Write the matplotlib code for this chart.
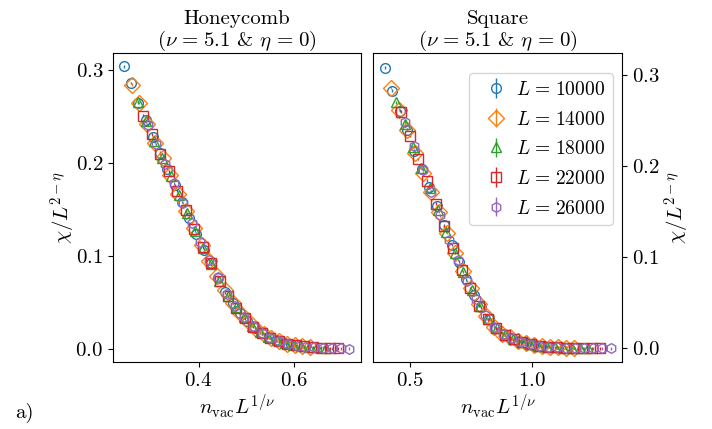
import numpy as np
import matplotlib
matplotlib.use('Agg')
import matplotlib.pyplot as plt

plt.rcParams['font.family'] = 'serif'
plt.rcParams['font.serif'] = ['cmr10']
plt.rcParams['mathtext.fontset'] = 'cm'
plt.rcParams['axes.formatter.use_mathtext'] = True
plt.rcParams['axes.unicode_minus'] = False
plt.rcParams['font.size'] = 15

nu = 5.1
L_values = [10000, 14000, 18000, 22000, 26000]
markers = ['o', 'D', '^', 's', 'h']
msizes = [7, 8, 7, 7, 7]
colors = ['C0', 'C1', 'C2', 'C3', 'C4']

# vacancy concentrations (same grid for every L)
n_honey = [0.0400, 0.0425, 0.0450, 0.0475, 0.0500, 0.0525, 0.0550, 0.0575,
           0.0600, 0.0625, 0.0650, 0.0675, 0.0700, 0.0725, 0.0750, 0.0775,
           0.0800, 0.0825, 0.0850, 0.0875, 0.0900, 0.0925, 0.0950, 0.0975]
n_square = [0.065, 0.070, 0.075, 0.080, 0.085, 0.090, 0.095, 0.100,
            0.105, 0.110, 0.115, 0.120, 0.125, 0.130, 0.135, 0.140,
            0.145, 0.150, 0.155, 0.160, 0.165, 0.170, 0.175, 0.180]

# chi / L^(2-eta), honeycomb
chi_honey_10000 = [0.304, 0.286, 0.265, 0.246, 0.228, 0.211, 0.194, 0.176, 0.158, 0.141, 0.124, 0.107,
                   0.092, 0.076, 0.061, 0.050, 0.039, 0.030, 0.023, 0.017, 0.0127, 0.0094, 0.0068, 0.0049]
chi_honey_14000 = [0.284, 0.265, 0.242, 0.222, 0.205, 0.187, 0.167, 0.148, 0.130, 0.112, 0.095, 0.078,
                   0.063, 0.050, 0.039, 0.030, 0.022, 0.0165, 0.0117, 0.0083, 0.0059, 0.0041, 0.0030, 0.0021]
chi_honey_18000 = [0.266, 0.245, 0.224, 0.205, 0.186, 0.166, 0.146, 0.127, 0.109, 0.091, 0.073, 0.057,
                   0.045, 0.034, 0.025, 0.018, 0.0133, 0.0093, 0.0065, 0.0045, 0.0031, 0.0023, 0.0017, 0.0012]
chi_honey_22000 = [0.251, 0.231, 0.210, 0.191, 0.170, 0.149, 0.129, 0.110, 0.092, 0.073, 0.057, 0.044,
                   0.033, 0.024, 0.017, 0.012, 0.0084, 0.0058, 0.0040, 0.0029, 0.0020, 0.0014, 0.0010, 0.0007]
chi_honey_26000 = [0.241, 0.220, 0.199, 0.178, 0.157, 0.135, 0.115, 0.096, 0.077, 0.059, 0.046, 0.034,
                   0.025, 0.017, 0.012, 0.0083, 0.0056, 0.0038, 0.0027, 0.0018, 0.0013, 0.0009, 0.0006, 0.0004]

# chi / L^(2-eta), square
chi_square_10000 = [0.308, 0.283, 0.261, 0.240, 0.217, 0.197, 0.177, 0.156, 0.135, 0.114, 0.095, 0.076,
                    0.059, 0.045, 0.032, 0.022, 0.0155, 0.011, 0.0080, 0.0058, 0.0038, 0.0025, 0.0017, 0.0013]
chi_square_14000 = [0.286, 0.262, 0.240, 0.215, 0.193, 0.172, 0.150, 0.127, 0.105, 0.085, 0.066, 0.049,
                    0.036, 0.024, 0.016, 0.012, 0.0082, 0.0056, 0.0036, 0.0025, 0.0017, 0.0011, 0.0007, 0.0005]
chi_square_18000 = [0.270, 0.246, 0.221, 0.198, 0.176, 0.152, 0.128, 0.105, 0.084, 0.064, 0.047, 0.032,
                    0.022, 0.015, 0.010, 0.0072, 0.0046, 0.0028, 0.0019, 0.0013, 0.0008, 0.0005, 0.0004, 0.0003]
chi_square_22000 = [0.260, 0.233, 0.208, 0.184, 0.159, 0.134, 0.110, 0.086, 0.066, 0.047, 0.032, 0.022,
                    0.015, 0.010, 0.0068, 0.0044, 0.0027, 0.0018, 0.0011, 0.0007, 0.0005, 0.0003, 0.0002, 0.0002]
chi_square_26000 = [0.249, 0.222, 0.196, 0.172, 0.146, 0.119, 0.097, 0.074, 0.054, 0.037, 0.024, 0.016,
                    0.011, 0.0072, 0.0045, 0.0028, 0.0018, 0.0011, 0.0007, 0.0005, 0.0003, 0.0002, 0.0001, 0.0001]

chi_honey = [chi_honey_10000, chi_honey_14000, chi_honey_18000, chi_honey_22000, chi_honey_26000]
chi_square = [chi_square_10000, chi_square_14000, chi_square_18000, chi_square_22000, chi_square_26000]
err = 0.0015

fig = plt.figure(figsize=(7.12, 4.29), dpi=100)
ax1 = fig.add_axes([0.1587, 0.156, 0.3483, 0.72])
ax2 = fig.add_axes([0.524, 0.156, 0.350, 0.72])

sp = r'\hspace{0.12}'
for ax, n_list, chi_list in [(ax1, n_honey, chi_honey), (ax2, n_square, chi_square)]:
    for L, chi, m, ms, c in zip(L_values, chi_list, markers, msizes, colors):
        x = np.array(n_list) * L ** (1 / nu)
        ax.errorbar(x, chi, yerr=err, fmt=m, color=c, mfc='none', ms=ms,
                    mew=1.0, elinewidth=1.0, label=rf'$L{sp}={sp}{L}$')
    ax.set_yticks([0.0, 0.1, 0.2, 0.3])
    ax.set_xlabel(r'$n_{\rm vac}L^{1/\nu}$', labelpad=2)

ax1.set_ylabel(r'$\chi/L^{2-\eta}$', labelpad=-2)
ax2.set_ylabel(r'$\chi/L^{2-\eta}$', labelpad=2)

sub = rf'$(\nu{sp}={sp}5.1$ & $\eta{sp}={sp}0)$'
ax1.set_title('Honeycomb\n' + sub, fontsize=15, pad=3, linespacing=1.05)
ax2.set_title('Square\n' + sub, fontsize=15, pad=3, linespacing=1.05)

ax1.set_xlim(0.221, 0.740)
ax1.set_ylim(-0.014, 0.318)
ax1.set_xticks([0.4, 0.6])

ax2.set_xlim(0.348, 1.369)
ax2.set_ylim(-0.015, 0.324)
ax2.set_xticks([0.5, 1.0])
ax2.yaxis.tick_right()
ax2.yaxis.set_label_position('right')
ax2.legend(loc='upper right', bbox_to_anchor=(1.0, 0.967), fontsize=14,
           handletextpad=0.0, labelspacing=0.6)

fig.text(0.021, 0.025, 'a)', fontsize=15)

fig.savefig('out.png', dpi=100)
